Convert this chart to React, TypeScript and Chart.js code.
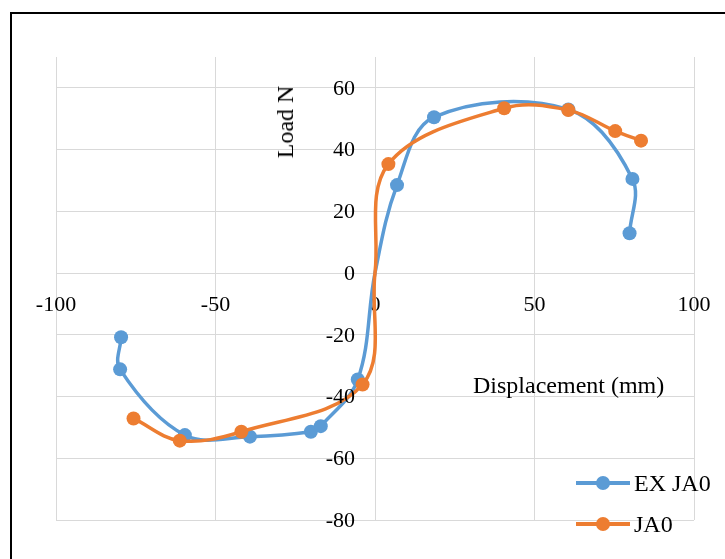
import React, { useEffect, useRef } from "react";
import { Chart, registerables } from "chart.js";

Chart.register(...registerables);

// Experimental hysteresis curve (EX JA0)
const exDisp = [-79.6, -79.9, -59.6, -39.2, -20.1, -17.0, -5.4, 0, 6.9, 18.5, 60.6, 80.7, 79.8];
const exLoad = [-20.8, -31.2, -52.5, -53.0, -51.4, -49.6, -34.5, 0, 28.5, 50.5, 53.0, 30.5, 12.9];

// Model curve (JA0)
const ja0Disp = [-75.7, -61.2, -41.9, -3.9, 0, 4.2, 40.5, 60.6, 75.3, 83.4];
const ja0Load = [-47.1, -54.3, -51.4, -36.1, 0, 35.3, 53.4, 52.8, 46.0, 42.9];

const seriesNames = ["EX JA0", "JA0"];
const seriesColors = ["#5B9BD5", "#ED7D31"];

const xTitle = "Displacement (mm)";
const yTitle = "Load N";

const FONT = "'Liberation Serif', 'Times New Roman', serif";
const TICK_SIZE = 22;

const toPoints = (xs: number[], ys: number[]) => xs.map((x, i) => ({ x, y: ys[i] }));

// the origin is a curve point without a marker
const markerRadius = (ctx: any) => {
  const p = ctx.raw;
  return p && p.x === 0 && p.y === 0 ? 0 : 7;
};

// Value labels for the load axis, set 20px to the left of the vertical zero line
// (the built-in labels of a value-positioned axis sit flush against it)
const loadAxisLabels = {
  id: "loadAxisLabels",
  afterDatasetsDraw(chart: any) {
    const xs = chart.scales.x;
    const ys = chart.scales.y;
    const ctx = chart.ctx;
    ctx.save();
    ctx.font = `${TICK_SIZE}px ${FONT}`;
    ctx.fillStyle = "#000";
    ctx.textAlign = "right";
    ctx.textBaseline = "middle";
    const x0 = xs.getPixelForValue(0) - 20;
    ys.ticks.forEach((t: any) => {
      ctx.fillText(String(t.value), x0, ys.getPixelForValue(t.value) + 1);
    });
    ctx.restore();
  },
};

export default function App() {
  const canvasRef = useRef<HTMLCanvasElement | null>(null);

  useEffect(() => {
    if (!canvasRef.current) return;
    const chart = new Chart(canvasRef.current, {
      type: "scatter",
      data: {
        datasets: [
          {
            label: seriesNames[0],
            data: toPoints(exDisp, exLoad),
            showLine: true,
            borderColor: seriesColors[0],
            backgroundColor: seriesColors[0],
            borderWidth: 3.5,
            tension: 0.36,
            pointRadius: markerRadius,
            pointHoverRadius: markerRadius,
            pointBorderWidth: 0,
            order: 1,
          },
          {
            label: seriesNames[1],
            data: toPoints(ja0Disp, ja0Load),
            showLine: true,
            borderColor: seriesColors[1],
            backgroundColor: seriesColors[1],
            borderWidth: 3.5,
            tension: 0.36,
            pointRadius: markerRadius,
            pointHoverRadius: markerRadius,
            pointBorderWidth: 0,
            order: 0,
          },
        ],
      },
      options: {
        responsive: false,
        animation: false,
        devicePixelRatio: 1,
        layout: { padding: { left: 56, top: 57, right: 31, bottom: 39 } },
        plugins: {
          legend: { display: false },
          tooltip: { enabled: false },
        },
        scales: {
          x: {
            type: "linear",
            position: { y: 0 } as any,
            min: -100,
            max: 100,
            ticks: {
              stepSize: 50,
              padding: 19,
              color: "#000",
              font: { family: FONT, size: TICK_SIZE },
              maxRotation: 0,
            },
            grid: { color: "#d9d9d9", lineWidth: 1, drawTicks: false },
            border: { color: "#d9d9d9", width: 1 },
            afterFit(scale: any) {
              scale.paddingLeft = 0;
              scale.paddingRight = 0;
            },
          },
          y: {
            type: "linear",
            position: { x: 0 } as any,
            min: -80,
            max: 70,
            ticks: {
              stepSize: 20,
              includeBounds: false,
              display: false,
            },
            grid: { color: "#d9d9d9", lineWidth: 1, drawTicks: false },
            border: { color: "#d9d9d9", width: 1 },
            afterFit(scale: any) {
              scale.paddingTop = 0;
              scale.paddingBottom = 0;
            },
          },
        },
      },
      plugins: [loadAxisLabels],
    });
    return () => chart.destroy();
  }, []);

  const textBase: React.CSSProperties = {
    position: "absolute",
    fontFamily: FONT,
    fontSize: 24,
    lineHeight: 1,
    color: "#000",
    whiteSpace: "nowrap",
  };

  const legendRow = (i: number, top: number) => (
    <div key={i} style={{ position: "absolute", left: 576, top: top - 12, height: 24, width: 150 }}>
      <div
        style={{
          position: "absolute",
          left: 0,
          top: 10.25,
          width: 54,
          height: 3.5,
          background: seriesColors[i],
        }}
      />
      <div
        style={{
          position: "absolute",
          left: 20,
          top: 5,
          width: 14,
          height: 14,
          borderRadius: "50%",
          background: seriesColors[i],
        }}
      />
      <div style={{ ...textBase, left: 58, top: 0 }}>{seriesNames[i]}</div>
    </div>
  );

  return (
    <div
      style={{
        position: "fixed",
        left: 0,
        top: 0,
        width: 725,
        height: 559,
        overflow: "hidden",
        background: "#fff",
      }}
    >
      <div
        style={{
          position: "absolute",
          left: 10,
          top: 12,
          width: 740,
          height: 580,
          border: "2px solid #000",
        }}
      />
      <canvas
        ref={canvasRef}
        width={725}
        height={559}
        style={{ position: "absolute", left: 0, top: 0, width: 725, height: 559 }}
      />
      <div
        style={{
          ...textBase,
          left: 285,
          top: 121.5,
          transform: "translate(-50%, -50%) rotate(-90deg)",
        }}
      >
        {yTitle}
      </div>
      <div style={{ ...textBase, left: 473, top: 373 }}>{xTitle}</div>
      {legendRow(0, 483)}
      {legendRow(1, 524)}
    </div>
  );
}
